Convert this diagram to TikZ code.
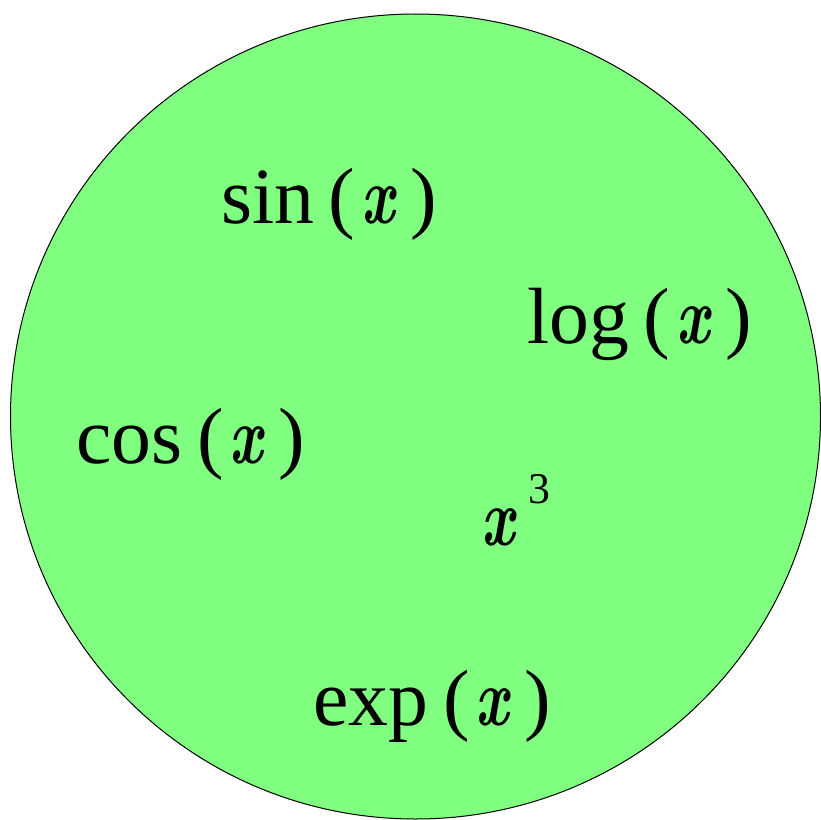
\documentclass[tikz,border=0pt]{standalone}
\usepackage{graphicx}
\usepackage{fontspec}
\setmainfont{Liberation Serif}
\newfontfamily\lmfont{Latin Modern Roman}
\definecolor{ballgreen}{HTML}{80FF80}
\tikzset{
  fn/.style={anchor=base west, inner sep=0pt, outer sep=0pt, font=\fontsize{80}{80}\selectfont},
  supnum/.style={anchor=base west, inner sep=0pt, outer sep=0pt, font=\fontsize{44}{44}\selectfont},
}
\newcommand{\varx}{\scalebox{0.72}[1]{\fontsize{82}{82}\selectfont\lmfont\bfseries\itshape x}}
\newcommand{\fnx}[1]{#1\hspace{15bp}(\hspace{6bp}\varx\hspace{16bp})}
\begin{document}
\begin{tikzpicture}[x=1bp,y=-1bp]
\useasboundingbox (0,0) rectangle (821,820);
\fill[white] (0,0) rectangle (821,820);
\draw[fill=ballgreen, draw=black, line width=1bp] (415.5,416.5) ellipse [x radius=405, y radius=402.5];
\node[fn] (sin) at (221,223) {\fnx{sin}};
\node[fn] (log) at (527,343) {\fnx{log}};
\node[fn] (cos) at (76,463) {\fnx{cos}};
\node[fn] (xcube) at (481,545) {\varx};
\node[supnum] (three) at (528,503) {3};
\node[fn] (exp) at (313,725) {\fnx{exp}};
\end{tikzpicture}
\end{document}
